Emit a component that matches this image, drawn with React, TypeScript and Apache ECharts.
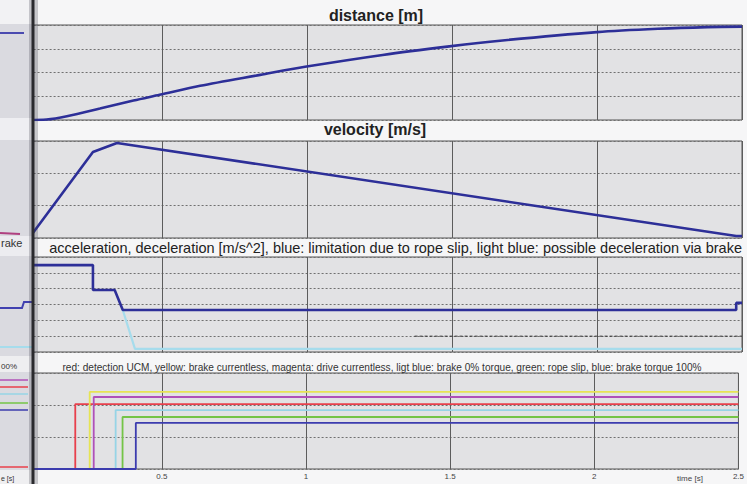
import React, { useEffect, useRef } from "react";
import * as echarts from "echarts";

// ---- data (time in s) ----
const xTicks = [0, 0.5, 1, 1.5, 2, 2.5];

const tDistance = [0.04, 0.1, 0.17, 0.284, 0.4, 0.49, 0.63, 0.837, 0.992, 1.26, 1.49, 1.665, 2.0, 2.21, 2.38, 2.5];
const distance = [0, 0.01, 0.08, 0.24, 0.41, 0.53, 0.72, 0.95, 1.12, 1.37, 1.55, 1.67, 1.85, 1.92, 1.955, 1.965];

const tVelocity = [0.04, 0.26, 0.343, 2.48, 2.5];
const velocity = [0, 1.33, 1.47, 0.03, 0.03];

const tAccel = [0.04, 0.26, 0.26, 0.335, 0.363, 2.48, 2.48, 2.5];
const accelLimit = [1.49, 1.49, -0.08, -0.08, -1.35, -1.35, -0.9, -0.9];

const tBrakeDecel = [0.363, 0.405, 2.5];
const brakeDecel = [-1.35, -3.8, -3.8];

const tDashed = [1.37, 2.5];
const dashedLevel = [-3, -3];

// step signals
const stepNames = ["red", "yellow", "magenta", "light blue", "green", "blue"];
const stepColors = ["#e8404c", "#e6e454", "#b050b8", "#96d4e6", "#74c447", "#3c3cae"];
const stepTimes = [0.2, 0.25, 0.264, 0.34, 0.364, 0.41];
const stepLevels = [2.03, 2.41, 2.25, 1.84, 1.625, 1.44];
const stepStart = 0.04;
const stepEnd = 2.5;

const titles = [
  "distance [m]",
  "velocity [m/s]",
  "acceleration, deceleration [m/s^2], blue: limitation due to rope slip, light blue: possible deceleration via brake",
  "red: detection UCM, yellow: brake currentless, magenta: drive currentless, ligt blue: brake 0% torque, green: rope slip, blue: brake torque 100%",
];

const BLUE = "#2d2f98";

function zip(a: number[], b: number[]) {
  return a.map((v, i) => [v, b[i]]);
}

export default function App() {
  const ref = useRef<HTMLDivElement>(null);
  useEffect(() => {
    if (!ref.current) return;
    const chart = echarts.init(ref.current, undefined, { renderer: "svg" });
    const gridBase = { left: 17.6, right: 5, show: true, backgroundColor: "#e2e2e4", borderColor: "#555", borderWidth: 1 };
    const grids = [
      { ...gridBase, top: 25, height: 95 },
      { ...gridBase, top: 141, height: 97 },
      { ...gridBase, top: 257, height: 95 },
      { ...gridBase, top: 373, height: 96 },
    ];
    const yRanges = [
      { min: 0, max: 2, interval: 0.5 },
      { min: 0, max: 1.5, interval: 0.5 },
      { min: -4, max: 2, interval: 1 },
      { min: 0, max: 3, interval: 1 },
    ];
    const xAxes = grids.map((_, i) => ({
      type: "value",
      gridIndex: i,
      min: xTicks[0],
      max: xTicks[xTicks.length - 1],
      interval: 0.5,
      axisLine: { show: false },
      axisTick: { show: false },
      axisLabel: {
        show: i === 3,
        fontSize: 8,
        color: "#444",
        margin: 3,
        fontFamily: "Liberation Sans",
        formatter: (v: number) => (v === 0 ? "" : String(v)),
      },
      splitLine: { show: true, lineStyle: { color: "#5c5c5c", width: 1 } },
    }));
    const yAxes = yRanges.map((r, i) => ({
      type: "value",
      gridIndex: i,
      ...r,
      axisLine: { show: false },
      axisTick: { show: false },
      axisLabel: { show: false },
      splitLine: { show: true, lineStyle: { color: "#707070", width: 1, type: [2, 2] } },
    }));

    const lineBase = { type: "line", showSymbol: false, symbol: "none", silent: true };
    const series: any[] = [
      { ...lineBase, name: "distance", xAxisIndex: 0, yAxisIndex: 0, smooth: 0.3, data: zip(tDistance, distance), lineStyle: { color: BLUE, width: 2.6 } },
      { ...lineBase, name: "velocity", xAxisIndex: 1, yAxisIndex: 1, data: zip(tVelocity, velocity), lineStyle: { color: BLUE, width: 2.6 } },
      { ...lineBase, name: "dashed", xAxisIndex: 2, yAxisIndex: 2, data: zip(tDashed, dashedLevel), lineStyle: { color: "#333", width: 1, type: [3, 2] } },
      { ...lineBase, name: "brake decel", xAxisIndex: 2, yAxisIndex: 2, data: zip(tBrakeDecel, brakeDecel), lineStyle: { color: "#a6dcec", width: 2.2 } },
      { ...lineBase, name: "rope slip limit", xAxisIndex: 2, yAxisIndex: 2, data: zip(tAccel, accelLimit), lineStyle: { color: BLUE, width: 2.6 } },
    ];
    stepNames.forEach((n, i) => {
      series.push({
        ...lineBase,
        name: n,
        xAxisIndex: 3,
        yAxisIndex: 3,
        data: [
          [stepStart, 0],
          [stepTimes[i], 0],
          [stepTimes[i], stepLevels[i]],
          [stepEnd, stepLevels[i]],
        ],
        lineStyle: { color: stepColors[i], width: 1.8 },
      });
    });

    const font = "Liberation Sans";
    const graphic: any[] = [
      // left page fragment beyond the fold
      { type: "rect", z: 100, shape: { x: 0, y: 0, width: 33, height: 484 }, style: { fill: "#dadae0" } },
      { type: "rect", z: 100, shape: { x: 0, y: 0, width: 33, height: 24 }, style: { fill: "#f2f2f4" } },
      { type: "rect", z: 100, shape: { x: 0, y: 118, width: 33, height: 22 }, style: { fill: "#eeeef2" } },
      { type: "rect", z: 100, shape: { x: 0, y: 236, width: 33, height: 20 }, style: { fill: "#ececf0" } },
      { type: "rect", z: 100, shape: { x: 0, y: 356, width: 33, height: 16 }, style: { fill: "#eeeef0" } },
      { type: "rect", z: 100, shape: { x: 0, y: 470, width: 33, height: 14 }, style: { fill: "#efeff1" } },
      { type: "line", z: 101, shape: { x1: 0, y1: 33, x2: 24, y2: 33 }, style: { stroke: "#4a4ab0", lineWidth: 2 } },
      { type: "line", z: 101, shape: { x1: 0, y1: 233, x2: 20, y2: 234 }, style: { stroke: "#b04080", lineWidth: 2 } },
      { type: "polyline", z: 101, shape: { points: [[0, 308], [22, 308], [24, 302], [33, 302]] }, style: { stroke: "#4040b0", lineWidth: 2, fill: null } },
      { type: "line", z: 101, shape: { x1: 0, y1: 347, x2: 33, y2: 347 }, style: { stroke: "#a6dcec", lineWidth: 2 } },
      { type: "line", z: 101, shape: { x1: 0, y1: 380, x2: 28, y2: 380 }, style: { stroke: "#b050b8", lineWidth: 1.5 } },
      { type: "line", z: 101, shape: { x1: 0, y1: 387, x2: 28, y2: 387 }, style: { stroke: "#e8404c", lineWidth: 1.5 } },
      { type: "line", z: 101, shape: { x1: 0, y1: 394, x2: 28, y2: 394 }, style: { stroke: "#96d4e6", lineWidth: 1.5 } },
      { type: "line", z: 101, shape: { x1: 0, y1: 403, x2: 28, y2: 403 }, style: { stroke: "#74c447", lineWidth: 1.5 } },
      { type: "line", z: 101, shape: { x1: 0, y1: 410, x2: 28, y2: 410 }, style: { stroke: "#3c3cae", lineWidth: 1.5 } },
      { type: "line", z: 101, shape: { x1: 0, y1: 467, x2: 28, y2: 467 }, style: { stroke: "#e8404c", lineWidth: 1.5 } },
      { type: "text", z: 101, x: 1, y: 243, style: { text: "rake", font: `11px '${font}'`, fill: "#333", textVerticalAlign: "middle" } },
      { type: "text", z: 101, x: 1, y: 366, style: { text: "00%", font: `8px '${font}'`, fill: "#333", textVerticalAlign: "middle" } },
      { type: "text", z: 101, x: 1, y: 478, style: { text: "e [s]", font: `7px '${font}'`, fill: "#333", textVerticalAlign: "middle" } },
      // fold
      { type: "rect", z: 102, shape: { x: 29, y: 0, width: 9, height: 484 }, style: { fill: "rgba(60,60,70,0.25)" } },
      { type: "rect", z: 103, shape: { x: 31.5, y: 0, width: 3, height: 484 }, style: { fill: "#2a2a2e" } },
      // titles
      { type: "text", z: 110, x: 376, y: 15, style: { text: titles[0], font: `bold 16px '${font}'`, fill: "#222", textAlign: "center", textVerticalAlign: "middle" } },
      { type: "text", z: 110, x: 375, y: 129, style: { text: titles[1], font: `bold 16px '${font}'`, fill: "#222", textAlign: "center", textVerticalAlign: "middle" } },
      { type: "text", z: 110, x: 742, y: 248, style: { text: titles[2], font: `14.5px '${font}'`, fill: "#222", textAlign: "right", textVerticalAlign: "middle" } },
      { type: "text", z: 110, x: 382, y: 367, style: { text: titles[3], font: `10.1px '${font}'`, fill: "#333", textAlign: "center", textVerticalAlign: "middle" } },
      { type: "text", z: 110, x: 690, y: 478, style: { text: "time [s]", font: `8px '${font}'`, fill: "#444", textAlign: "center", textVerticalAlign: "middle" } },
    ];

    chart.setOption({
      animation: false,
      backgroundColor: "#f6f6f7",
      grid: grids,
      xAxis: xAxes,
      yAxis: yAxes,
      series,
      graphic,
    });
    return () => chart.dispose();
  }, []);
  return <div ref={ref} style={{ position: "fixed", left: 0, top: 0, width: 747, height: 484 }} />;
}
